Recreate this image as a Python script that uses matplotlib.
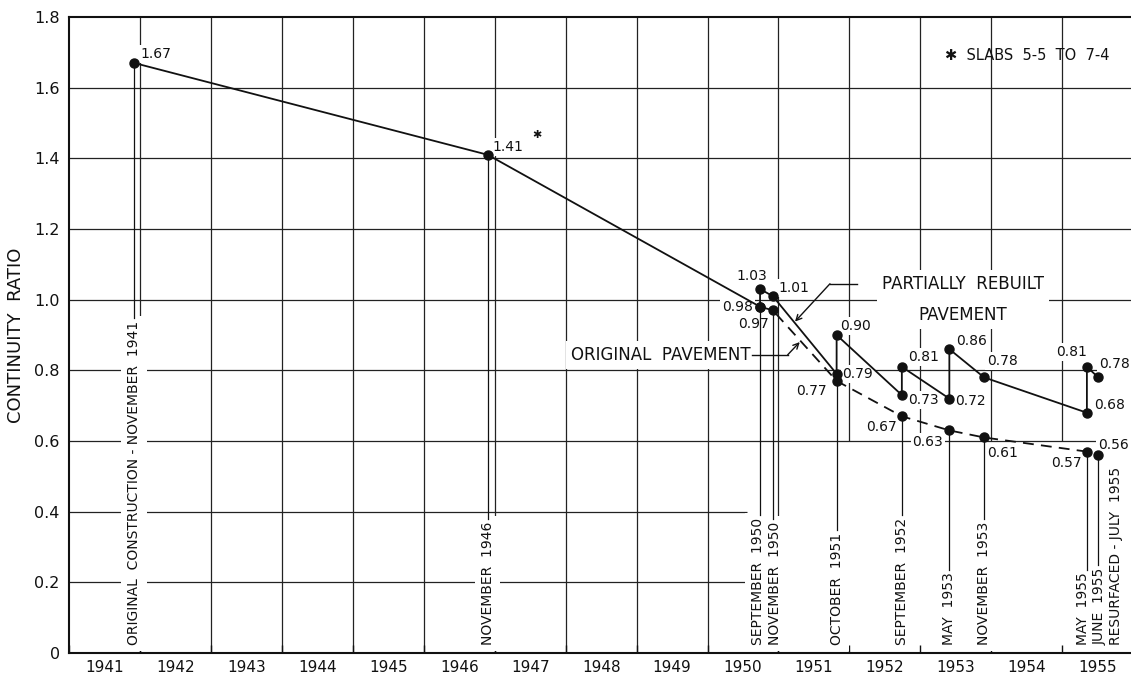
import matplotlib.pyplot as plt

plt.rcParams['font.family'] = ['DejaVu Sans']

# dates in fractional years, continuity ratio values
rebuilt_x = [1941.91, 1946.90, 1950.74, 1950.74, 1950.92, 1951.82, 1951.82,
             1952.74, 1952.74, 1953.41, 1953.41, 1953.90, 1955.35, 1955.35, 1955.51]
rebuilt_y = [1.67, 1.41, 0.98, 1.03, 1.01, 0.79, 0.90,
             0.73, 0.81, 0.72, 0.86, 0.78, 0.68, 0.81, 0.78]
original_x = [1950.74, 1950.92, 1951.82, 1952.74, 1953.41, 1953.90, 1955.35, 1955.51]
original_y = [0.98, 0.97, 0.77, 0.67, 0.63, 0.61, 0.57, 0.56]

survey_dates = [1941.91, 1946.90, 1950.74, 1950.92, 1951.82,
                1952.74, 1953.41, 1953.90, 1955.35, 1955.51]
survey_labels = ['ORIGINAL  CONSTRUCTION - NOVEMBER  1941', 'NOVEMBER  1946',
                 'SEPTEMBER  1950', 'NOVEMBER  1950', 'OCTOBER  1951',
                 'SEPTEMBER  1952', 'MAY  1953', 'NOVEMBER  1953',
                 'MAY  1955', 'JUNE  1955']
resurface_date = 1955.68
resurface_label = 'RESURFACED - JULY  1955'

years = list(range(1941, 1956))
y_ticks = [0, 0.2, 0.4, 0.6, 0.8, 1.0, 1.2, 1.4, 1.6, 1.8]
y_ticklabels = ['0', '0.2', '0.4', '0.6', '0.8', '1.0', '1.2', '1.4', '1.6', '1.8']

# label placement: (dx px, dy px, ha, va) per point
rebuilt_lbl = [(6, 2, 'left', 'bottom'), (5, 1, 'left', 'bottom'),
               (-7, 0, 'right', 'center'), (-8, 6, 'center', 'bottom'),
               (6, 1, 'left', 'bottom'), (6, 0, 'left', 'center'),
               (4, 2, 'left', 'bottom'), (6, -5, 'left', 'center'),
               (6, 3, 'left', 'bottom'), (6, -2, 'left', 'center'),
               (7, 1, 'left', 'bottom'), (3, 9, 'left', 'bottom'),
               (7, 8, 'left', 'center'), (0, 8, 'right', 'bottom'),
               (1, 6, 'left', 'bottom')]
original_lbl = [None, (-4, -14, 'right', 'center'), (-10, -10, 'right', 'center'),
                (-5, -11, 'right', 'center'), (-6, -12, 'right', 'center'),
                (3, -16, 'left', 'center'), (-5, -11, 'right', 'center'),
                (0, 10, 'left', 'center')]
# small sideways nudges (px) so the crowded date labels do not collide
date_dx = [0, 0, -2, 2, 0, 0, 0, 0, -4, 1]
resurface_dx = 6

fig = plt.figure(figsize=(11.31, 6.86), dpi=100)
ax = fig.add_axes([0.06145, 0.0481, 0.9403, 0.9271])
ax.set_xlim(1941, 1956)
ax.set_ylim(0, 1.8)

ink = '#111111'
grid_kw = dict(color='#222222', lw=0.9, zorder=1)

# grid, partly left open in the lower right for the date labels
for y in y_ticks[1:-1]:
    if y < 0.5:
        ax.hlines(y, 1941, 1950.55, **grid_kw)
    else:
        ax.hlines(y, 1941, 1956, **grid_kw)
for yr in years[1:]:
    if yr <= 1951:
        ax.vlines(yr, 0, 1.8, **grid_kw)
    else:
        ax.vlines(yr, 0.6, 1.8, **grid_kw)

# series
ax.plot(rebuilt_x, rebuilt_y, '-', color=ink, lw=1.3, zorder=4)
ax.plot(original_x, original_y, '--', color=ink, lw=1.3, dashes=(6, 4), zorder=4)
ax.plot(rebuilt_x + original_x, rebuilt_y + original_y, 'o', color=ink,
        ms=6.5, ls='none', zorder=5)

box = dict(boxstyle='square,pad=0.15', fc='white', ec='none')
for x, y, lb in zip(rebuilt_x, rebuilt_y, rebuilt_lbl):
    dx, dy, ha, va = lb
    ax.annotate(f'{y:.2f}', (x, y), xytext=(dx, dy), textcoords='offset pixels',
                ha=ha, va=va, fontsize=10, color=ink, bbox=box, zorder=3)
for x, y, lb in zip(original_x, original_y, original_lbl):
    if lb is None:
        continue
    dx, dy, ha, va = lb
    ax.annotate(f'{y:.2f}', (x, y), xytext=(dx, dy), textcoords='offset pixels',
                ha=ha, va=va, fontsize=10, color=ink, bbox=box, zorder=3)

# asterisk on the 1946 reading and its note
ax.annotate('\u2731', (rebuilt_x[1], rebuilt_y[1]), xytext=(49, 20),
            textcoords='offset pixels', ha='center', va='center', fontsize=8, color=ink)
ax.text(1953.35, 1.69, '\u2731  SLABS  5-5  TO  7-4', fontsize=10.5, color=ink,
        ha='left', va='center')

# rotated survey-date labels: white knock-out boxes first, glyphs on top
vbox = dict(boxstyle='square,pad=0.4', fc='white', ec='none')
def date_label(d, lab, dx):
    kw = dict(xytext=(dx, 0), textcoords='offset pixels', rotation=90,
              ha='center', va='bottom', fontsize=10)
    ax.annotate(lab, (d, 0.022), color='white', bbox=vbox, zorder=2, **kw)
    return ax.annotate(lab, (d, 0.022), color=ink, zorder=3, **kw)

date_texts = [date_label(d, lab, dx)
              for d, lab, dx in zip(survey_dates, survey_labels, date_dx)]
date_label(resurface_date, resurface_label, resurface_dx)

# callouts
tbox = dict(boxstyle='square,pad=0.3', fc='white', ec='none')
ax.text(1953.60, 1.0, 'PARTIALLY  REBUILT\nPAVEMENT', ha='center', va='center',
        fontsize=12, color=ink, linespacing=1.9, bbox=tbox, zorder=3)
ax.plot([1951.726, 1952.107], [1.045, 1.045], color=ink, lw=1, zorder=4)
ax.annotate('', xy=(1951.233, 0.938), xytext=(1951.726, 1.045),
            arrowprops=dict(arrowstyle='->', color=ink, lw=1, shrinkA=0, shrinkB=0),
            zorder=4)
ax.text(1950.60, 0.844, 'ORIGINAL  PAVEMENT', ha='right', va='center',
        fontsize=12, color=ink, bbox=tbox, zorder=3)
ax.plot([1950.62, 1951.13], [0.844, 0.844], color=ink, lw=1, zorder=4)
ax.annotate('', xy=(1951.30, 0.880), xytext=(1951.13, 0.844),
            arrowprops=dict(arrowstyle='->', color=ink, lw=1, shrinkA=0, shrinkB=0),
            zorder=4)

# axes styling
ax.set_xticks(years)
ax.set_xticklabels([])
ax.set_xticks([y + 0.5 for y in years], [str(y) for y in years], minor=True)
ax.tick_params(axis='x', which='major', direction='in', length=6, width=1, color=ink)
ax.tick_params(axis='x', which='minor', length=0, pad=5, labelsize=11, labelcolor=ink)
ax.set_yticks(y_ticks, y_ticklabels)
ax.tick_params(axis='y', length=0, pad=7, labelsize=11.5, labelcolor=ink)
ax.set_ylabel('CONTINUITY  RATIO', fontsize=13, color=ink)
ax.yaxis.set_label_coords(-0.042, 0.5)
for s in ax.spines.values():
    s.set_linewidth(1.5)
    s.set_color(ink)
    s.set_zorder(6)

# drop lines from lowest reading to top of each date label
fig.canvas.draw()
r = fig.canvas.get_renderer()
inv = ax.transData.inverted()
all_x = rebuilt_x + original_x
all_y = rebuilt_y + original_y
for d, t in zip(survey_dates, date_texts):
    low = min(v for x, v in zip(all_x, all_y) if x == d)
    top = inv.transform(t.get_window_extent(r))[1][1]
    ax.plot([d, d], [low, top + 0.008], color=ink, lw=0.9, zorder=4)

fig.savefig('out.png', dpi=100)
